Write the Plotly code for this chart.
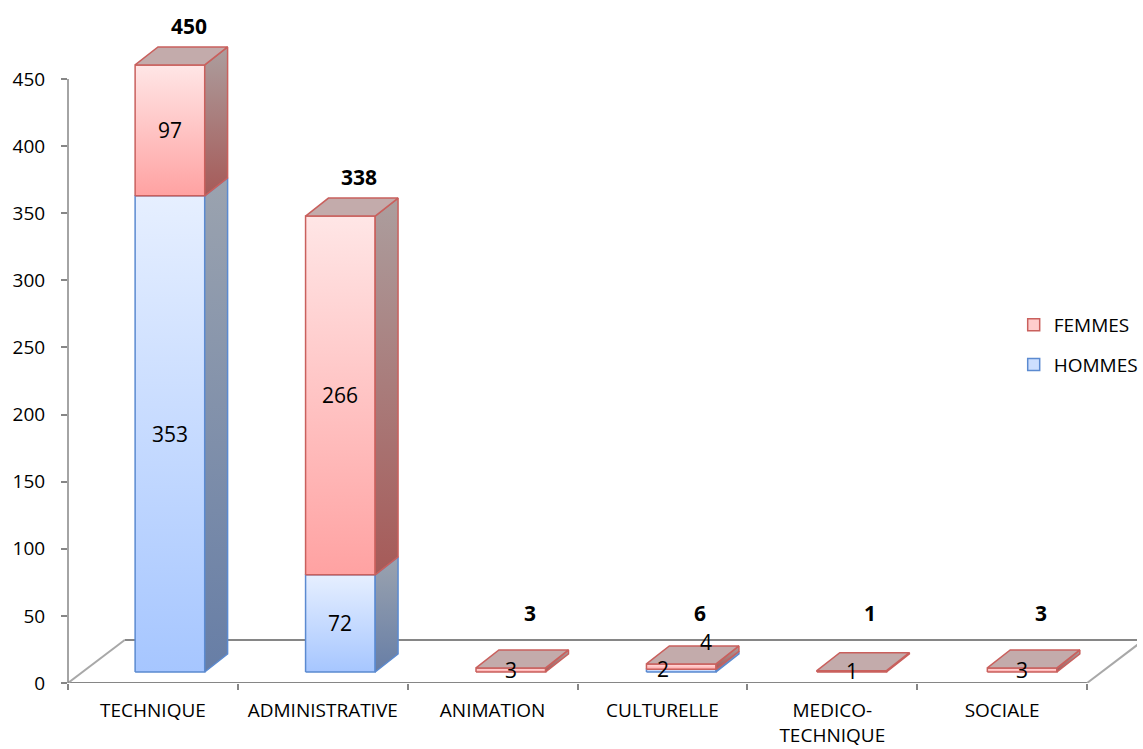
import numpy as np
import plotly.graph_objects as go

# ---- data -------------------------------------------------------------
categories = ["TECHNIQUE", "ADMINISTRATIVE", "ANIMATION", "CULTURELLE",
              "MEDICO-<br>TECHNIQUE", "SOCIALE"]
hommes = [353, 72, 0, 2, 0, 0]
femmes = [97, 266, 3, 4, 1, 3]
totals = [h + f for h, f in zip(hommes, femmes)]
y_ticks = [0, 50, 100, 150, 200, 250, 300, 350, 400, 450]

# ---- page / projection geometry (pixels) ------------------------------
W, H = 1143, 749
M_L, M_R, M_T, M_B = 68, 0, 20, 66
PLOT_W, PLOT_H = W - M_L - M_R, H - M_T - M_B

AX_PX_PER_UNIT = 604 / 450          # value axis on the front plane
CAT_PX = 170.8                      # category pitch on the front plane
BAR_PX_X = 171.4                    # category pitch on the bar plane
BAR_PX_Y = 1.349                    # value scale on the bar plane
BAR_X0_PX = 102.5                   # first bar centre, from plot left
BAR_BASE_PX = 11                    # bar plane floor above front edge

bar_w = 70 / BAR_PX_X
side_dx = 23 / BAR_PX_X
side_dy = 18 / BAR_PX_Y
floor_dx = 57 / CAT_PX
floor_dy = 43 / AX_PX_PER_UNIT

FONT = "Open Sans"
AXIS_GREY = "#868686"

FEM = dict(front=("#FFA2A2", "#FFE6E6"), side=("#A65A58", "#AC9E9E"),
           line="#C9605D", top="#C3ABAB", swatch="#FFCDCD")
HOM = dict(front=("#A6C6FF", "#E6EFFF"), side=("#677EA6", "#9BA3AF"),
           line="#5B8AD0", top="#B4BED0", swatch="#CDDFFF")

fig = go.Figure()


def poly(xs, ys, colors, line_color):
    fig.add_trace(go.Scatter(
        x=xs + [xs[0]], y=ys + [ys[0]], xaxis="x2", yaxis="y2",
        mode="lines", fill="toself",
        fillgradient=dict(type="vertical",
                          colorscale=[[0, colors[0]], [1, colors[1]]]),
        line=dict(color=line_color, width=1.5),
        hoverinfo="skip", showlegend=False))


pos = np.arange(len(categories))
for i, x in enumerate(pos):
    base = 0
    for vals, sty in ((hommes, HOM), (femmes, FEM)):
        v = vals[i]
        if v <= 0:
            continue
        y0, y1 = base, base + v
        xl, xr = x - bar_w / 2, x + bar_w / 2
        # front face
        poly([xl, xr, xr, xl], [y0, y0, y1, y1], sty["front"], sty["line"])
        # right side face
        poly([xr, xr + side_dx, xr + side_dx, xr],
             [y0, y0 + side_dy, y1 + side_dy, y1], sty["side"], sty["line"])
        base = y1
        top_sty = sty
    # top face of the stack
    xl, xr = x - bar_w / 2, x + bar_w / 2
    fig.add_trace(go.Scatter(
        x=[xl, xr, xr + side_dx, xl + side_dx, xl],
        y=[base, base, base + side_dy, base + side_dy, base],
        xaxis="x2", yaxis="y2", mode="lines", fill="toself",
        fillcolor=top_sty["top"], line=dict(color=top_sty["line"], width=1.5),
        hoverinfo="skip", showlegend=False))

# legend swatches
for name, sty in (("FEMMES", FEM), ("HOMMES", HOM)):
    fig.add_trace(go.Bar(
        x=[None], y=[None], name=name, xaxis="x2", yaxis="y2",
        legendgroup=name,
        marker=dict(color=sty["swatch"], line=dict(color=sty["line"], width=1.5))))

# ---- value labels ------------------------------------------------------
label_nudge = {(3, "h"): (-18, 2), (3, "f"): (25, 25)}
for i, x in enumerate(pos):
    base = 0
    for key, vals in (("h", hommes), ("f", femmes)):
        v = vals[i]
        if v <= 0:
            continue
        dx, dy = label_nudge.get((i, key), (0, 0))
        fig.add_annotation(x=x, y=base + v / 2, xref="x2", yref="y2",
                           text=str(v), showarrow=False, xshift=dx, yshift=dy,
                           font=dict(family=FONT, size=21, color="#000"))
        base += v
    fig.add_annotation(x=x + 0.11, y=max(totals[i] + 29, 44), xref="x2", yref="y2",
                       text=f"<b>{totals[i]}</b>", showarrow=False,
                       font=dict(family=FONT, size=21, color="#000"))

# ---- floor and value axis line ------------------------------------------
x_lo, x_hi = -0.5, len(categories) - 0.5
floor = [
    (x_lo, 0, x_hi, 0),
    (x_lo + floor_dx, floor_dy, x_hi + floor_dx + 1, floor_dy),
]
for x0, y0, x1, y1 in floor:
    fig.add_shape(type="line", x0=x0, y0=y0, x1=x1, y1=y1, xref="x", yref="y",
                  line=dict(color=AXIS_GREY, width=2), layer="below")
for xe in (x_lo, x_hi):
    fig.add_shape(type="line", x0=xe, y0=0, x1=xe + floor_dx, y1=floor_dy,
                  xref="x", yref="y", line=dict(color="#A8A8A8", width=2),
                  layer="below")
fig.add_shape(type="line", x0=0, x1=0, xref="paper", y0=0, y1=y_ticks[-1],
              yref="y", line=dict(color=AXIS_GREY, width=1.5))

fig.update_layout(
    width=W, height=H,
    margin=dict(l=M_L, r=M_R, t=M_T, b=M_B),
    paper_bgcolor="white", plot_bgcolor="white",
    font=dict(family=FONT, size=19, color="#000"),
    showlegend=True,
    legend=dict(x=(1019 - M_L) / PLOT_W, y=(H - M_B - 345) / PLOT_H,
                xanchor="left", yanchor="middle", traceorder="grouped",
                tracegroupgap=12, itemwidth=30, bgcolor="rgba(0,0,0,0)",
                font=dict(family=FONT, size=19)),
    xaxis=dict(type="category", categoryorder="array", categoryarray=categories,
               range=[-0.5, -0.5 + PLOT_W / CAT_PX], tickson="boundaries",
               ticks="outside", ticklen=6, tickcolor=AXIS_GREY, tickwidth=1.5,
               showline=False, showgrid=False, zeroline=False,
               ticklabelstandoff=14, tickfont=dict(family=FONT, size=19)),
    yaxis=dict(range=[0, PLOT_H / AX_PX_PER_UNIT], tickvals=y_ticks,
               ticks="outside", ticklen=6, tickcolor=AXIS_GREY, tickwidth=1.5,
               showline=False, showgrid=False, zeroline=False,
               ticklabelstandoff=12, tickfont=dict(family=FONT, size=19)),
    xaxis2=dict(overlaying="x", anchor="y2", visible=False,
                range=[-BAR_X0_PX / BAR_PX_X, (PLOT_W - BAR_X0_PX) / BAR_PX_X]),
    yaxis2=dict(overlaying="y", anchor="x2", visible=False,
                range=[-BAR_BASE_PX / BAR_PX_Y, (PLOT_H - BAR_BASE_PX) / BAR_PX_Y]),
)

# placeholder trace so the category axis keeps every label
fig.add_trace(go.Scatter(x=categories, y=[None] * len(categories), mode="markers",
                         showlegend=False, hoverinfo="skip"))

fig.write_html("out.html")
